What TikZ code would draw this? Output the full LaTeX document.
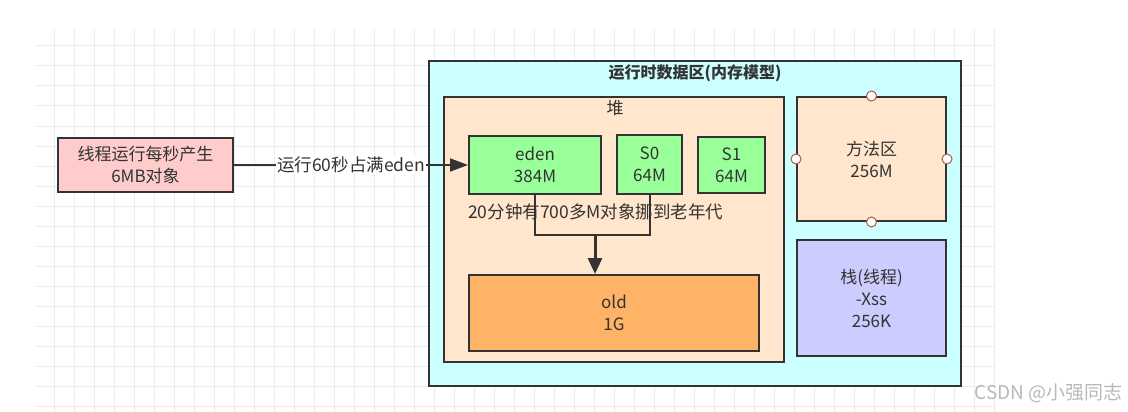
\documentclass[tikz,border=0pt]{standalone}
\usepackage{fontspec}
\setmainfont{Noto Sans CJK SC}
\usetikzlibrary{arrows.meta}

\definecolor{edgegray}{RGB}{51,51,51}
\definecolor{textgray}{RGB}{51,51,51}
\definecolor{gridgray}{RGB}{236,236,236}
\definecolor{runcyan}{RGB}{204,255,255}
\definecolor{heappeach}{RGB}{255,230,204}
\definecolor{younggreen}{RGB}{153,255,153}
\definecolor{oldorange}{RGB}{255,179,102}
\definecolor{stackblue}{RGB}{204,204,255}
\definecolor{threadpink}{RGB}{255,204,204}
\definecolor{pinred}{RGB}{184,84,80}

\begin{document}
\begin{tikzpicture}[x=1pt, y=-1pt,
    box/.style={shape=rectangle, draw=edgegray, line width=2pt, align=center,
      text=textgray, font=\fontsize{17}{22}\selectfont, inner sep=0pt},
    pin/.style={shape=circle, draw=pinred, fill=white, line width=1pt,
      minimum size=10pt, inner sep=0pt},
    link/.style={draw=edgegray, line width=2pt}]
  \useasboundingbox (0, 0) rectangle (1128, 412);

  % background grid
  \foreach \gx in {54, 74, ..., 994}
    \draw[gridgray, line width=1pt] (\gx, 29) -- (\gx, 412);
  \foreach \gy in {46, 66, ..., 406}
    \draw[gridgray, line width=1pt] (36, \gy) -- (994, \gy);

  \node (src) at (145.5, 165) [box, fill=threadpink, minimum width=175pt, minimum height=54pt]
    {线程运行每秒产生\\6MB对象};

  \node (runtime) at (694.5, 223.5) [box, fill=runcyan, minimum width=532pt, minimum height=324pt] {};
  \node (title) at (695, 73) [font=\fontsize{16}{20}\selectfont\bfseries, text=textgray]
    {运行时数据区(内存模型)};

  \node (heap) at (614, 229.5) [box, fill=heappeach, minimum width=340pt, minimum height=265pt] {};
  \node (heaplabel) at (615, 108) [font=\fontsize{17}{20}\selectfont, text=textgray] {堆};

  \node (eden) at (535, 165) [box, fill=younggreen, minimum width=132pt, minimum height=58pt] {eden\\384M};
  \node (s0) at (649.5, 164.5) [box, fill=younggreen, minimum width=65pt, minimum height=59pt] {S0\\64M};
  \node (s1) at (731.5, 165) [box, fill=younggreen, minimum width=67pt, minimum height=56pt] {S1\\64M};
  \node (old) at (614, 313) [box, fill=oldorange, minimum width=290pt, minimum height=76pt] {old\\1G};

  \node (moved) at (468, 212) [anchor=west, text=textgray, font=\fontsize{17.5}{20}\selectfont, inner sep=0pt]
    {20分钟有700多M对象挪到老年代};

  \node (method) at (871.5, 159) [box, fill=heappeach, minimum width=149pt, minimum height=124pt] {方法区\\256M};
  \node (stack) at (871.5, 298) [box, fill=stackblue, minimum width=149pt, minimum height=116pt]
    {栈(线程)\\-Xss\\256K};

  \node (pinN) at (method.north) [pin] {};
  \node (pinW) at (method.west) [pin] {};
  \node (pinE) at (method.east) [pin] {};
  \node (pinS) at (method.south) [pin] {};

  \coordinate (merge) at (595, 235);
  \draw[link] (eden.south) |- (merge) -| (s0.south);
  \draw[link, line width=3pt, -{Triangle[length=16pt, width=14pt]}] (merge) -- (merge |- old.north);

  \draw[link, -{Triangle[length=18pt, width=13pt]}] (src) -- (eden)
    node[midway, fill=white, inner sep=1pt, text=textgray, font=\fontsize{17.5}{20}\selectfont] {运行60秒占满eden};

  \node (mark) at (1123, 393) [anchor=east, inner sep=0pt, text=black!28, font=\fontsize{19}{22}\selectfont] {CSDN @小强同志};
\end{tikzpicture}
\end{document}
